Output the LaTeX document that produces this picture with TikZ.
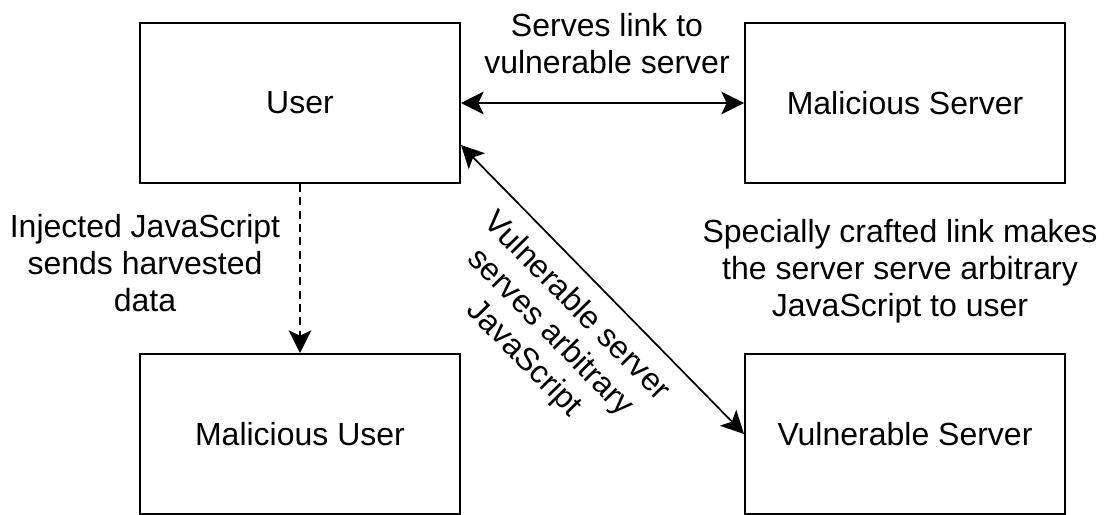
\documentclass[tikz,border=0pt]{standalone}
\usepackage{fontspec}
\setmainfont{Liberation Sans}
\usetikzlibrary{arrows.meta}

\begin{document}
\begin{tikzpicture}[x=0.75pt, y=-0.75pt,
    every node/.style={font=\fontsize{24}{27.75}\selectfont},
    party/.style={rectangle, draw, line width=1.5pt, minimum width=240pt, minimum height=120pt, inner sep=0pt},
    note/.style={align=center, inner sep=0pt},
    link/.style={line width=1.3pt},
    >={Stealth[length=17pt, width=17pt, inset=4pt]}]
    \useasboundingbox (0, 0) rectangle (1106, 514);

    \node[party] at (300, 103)  (user)  {User};
    \node[party] at (905, 103)  (msrv)  {Malicious Server};
    \node[party] at (300, 434)  (muser) {Malicious User};
    \node[party] at (905, 434)  (vsrv)  {Vulnerable Server};

    \node[note] at (607, 44)  (lnk) {Serves link to\\vulnerable server};
    \node[note] at (145, 263) (hrv) {Injected JavaScript\\sends harvested\\data};
    \node[note] at (900, 271) (crf) {Specially crafted link makes\\the server serve arbitrary\\JavaScript to user};
    \node[note, rotate=-45.4] at (550, 333) (srv) {Vulnerable server\\serves arbitrary\\JavaScript};

    \draw[link, <->] (user) -- (msrv);
    \draw[link, ->, dash pattern=on 6pt off 4pt] (user) -- (muser);
    \draw[link, <->] ([yshift=-31.5pt]user.east) -- (vsrv.west);
\end{tikzpicture}
\end{document}
